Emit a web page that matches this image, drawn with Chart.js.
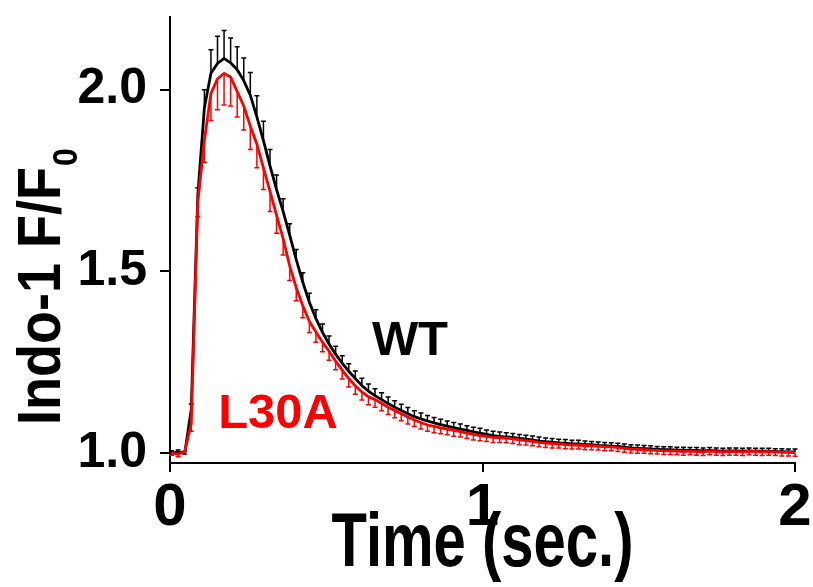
<!DOCTYPE html>
<html>
<head>
<meta charset="utf-8">
<script src="https://cdn.jsdelivr.net/npm/chart.js@4.4.1/dist/chart.umd.min.js"></script>
<style>
  html, body { margin: 0; padding: 0; background: #fff; }
  #wrap { width: 813px; height: 587px; position: relative; }
</style>
</head>
<body>
<div id="wrap"><canvas id="chart-indo"></canvas></div>
<script>
// time (sec.)
const times = [
  0.005, 0.026, 0.047, 0.068, 0.089, 0.110, 0.131, 0.152, 0.173, 0.194,
  0.215, 0.236, 0.257, 0.278, 0.299, 0.320, 0.341, 0.362, 0.383, 0.404,
  0.425, 0.446, 0.467, 0.488, 0.509, 0.530, 0.551, 0.572, 0.593, 0.614,
  0.635, 0.656, 0.677, 0.698, 0.719, 0.740, 0.761, 0.782, 0.803, 0.824,
  0.845, 0.866, 0.887, 0.908, 0.929, 0.950, 0.971, 0.992, 1.013, 1.034,
  1.055, 1.076, 1.097, 1.118, 1.139, 1.160, 1.181, 1.202, 1.223, 1.244,
  1.265, 1.286, 1.307, 1.328, 1.349, 1.370, 1.391, 1.412, 1.433, 1.454,
  1.475, 1.496, 1.517, 1.538, 1.559, 1.580, 1.601, 1.622, 1.643, 1.664,
  1.685, 1.706, 1.727, 1.748, 1.769, 1.790, 1.811, 1.832, 1.853, 1.874,
  1.895, 1.916, 1.937, 1.958, 1.979, 2.000
];

// WT mean F/F0 and SEM (upper bars)
const wtMean = [
  1.000, 1.003, 0.999, 1.120, 1.710, 1.950, 2.045, 2.072, 2.086, 2.074,
  2.055, 2.025, 1.985, 1.925, 1.860, 1.790, 1.725, 1.665, 1.600, 1.532,
  1.470, 1.415, 1.370, 1.332, 1.300, 1.272, 1.247, 1.225, 1.205, 1.186,
  1.170, 1.158, 1.147, 1.136, 1.126, 1.117, 1.108, 1.100, 1.094, 1.088,
  1.083, 1.078, 1.074, 1.070, 1.066, 1.062, 1.058, 1.055, 1.051, 1.048,
  1.046, 1.044, 1.043, 1.040, 1.038, 1.036, 1.033, 1.031, 1.030, 1.028,
  1.027, 1.025, 1.025, 1.023, 1.023, 1.021, 1.020, 1.019, 1.018, 1.016,
  1.014, 1.013, 1.012, 1.011, 1.010, 1.009, 1.009, 1.008, 1.008, 1.007,
  1.007, 1.006, 1.007, 1.006, 1.005, 1.006, 1.006, 1.005, 1.006, 1.005,
  1.005, 1.005, 1.004, 1.004, 1.003, 1.003
];
const wtSem = [
  0.006, 0.005, 0.006, 0.015, 0.020, 0.050, 0.065, 0.075, 0.077, 0.068,
  0.063, 0.062, 0.062, 0.058, 0.053, 0.045, 0.040, 0.035, 0.031, 0.028,
  0.026, 0.025, 0.024, 0.023, 0.022, 0.022, 0.021, 0.021, 0.021, 0.020,
  0.020, 0.019, 0.019, 0.018, 0.018, 0.017, 0.017, 0.016, 0.016, 0.015,
  0.015, 0.015, 0.014, 0.014, 0.014, 0.013, 0.013, 0.013, 0.012, 0.012,
  0.012, 0.012, 0.011, 0.011, 0.011, 0.011, 0.011, 0.010, 0.010, 0.010,
  0.010, 0.010, 0.010, 0.010, 0.009, 0.009, 0.009, 0.009, 0.009, 0.009,
  0.009, 0.009, 0.009, 0.009, 0.008, 0.008, 0.008, 0.008, 0.008, 0.008,
  0.008, 0.008, 0.008, 0.008, 0.008, 0.008, 0.008, 0.008, 0.008, 0.008,
  0.008, 0.008, 0.008, 0.008, 0.008, 0.008
];

// L30A mean F/F0 and SEM (lower bars)
const l30aMean = [
  1.000, 0.997, 1.003, 1.080, 1.690, 1.860, 1.990, 2.030, 2.045, 2.035,
  1.995, 1.955, 1.900, 1.850, 1.785, 1.720, 1.655, 1.590, 1.515, 1.455,
  1.405, 1.362, 1.333, 1.305, 1.280, 1.253, 1.228, 1.205, 1.185, 1.168,
  1.155, 1.147, 1.137, 1.126, 1.117, 1.108, 1.099, 1.091, 1.084, 1.077,
  1.073, 1.069, 1.066, 1.062, 1.059, 1.055, 1.051, 1.048, 1.046, 1.043,
  1.042, 1.041, 1.039, 1.036, 1.034, 1.032, 1.029, 1.027, 1.026, 1.025,
  1.023, 1.022, 1.022, 1.020, 1.020, 1.019, 1.017, 1.017, 1.015, 1.013,
  1.011, 1.010, 1.009, 1.008, 1.007, 1.006, 1.006, 1.005, 1.004, 1.005,
  1.004, 1.003, 1.005, 1.004, 1.003, 1.004, 1.004, 1.003, 1.005, 1.004,
  1.003, 1.004, 1.003, 1.002, 1.002, 1.001
];
const l30aSem = [
  0.006, 0.007, 0.006, 0.020, 0.040, 0.060, 0.075, 0.085, 0.087, 0.080,
  0.070, 0.066, 0.065, 0.065, 0.060, 0.055, 0.050, 0.045, 0.040, 0.036,
  0.033, 0.030, 0.028, 0.026, 0.025, 0.024, 0.024, 0.023, 0.023, 0.022,
  0.022, 0.021, 0.021, 0.020, 0.020, 0.019, 0.019, 0.018, 0.018, 0.017,
  0.017, 0.016, 0.016, 0.016, 0.015, 0.015, 0.015, 0.014, 0.014, 0.014,
  0.013, 0.013, 0.013, 0.013, 0.012, 0.012, 0.012, 0.012, 0.012, 0.011,
  0.011, 0.011, 0.011, 0.011, 0.011, 0.011, 0.011, 0.011, 0.011, 0.011,
  0.011, 0.011, 0.010, 0.010, 0.010, 0.010, 0.010, 0.010, 0.010, 0.010,
  0.010, 0.010, 0.010, 0.010, 0.010, 0.010, 0.010, 0.010, 0.010, 0.010,
  0.010, 0.010, 0.010, 0.010, 0.010, 0.010
];

const xTicks = [0, 1, 2];
const yTicks = [1.0, 1.5, 2.0];

const FONT = "'Liberation Sans', Arial, sans-serif";

function toPoints(ys) {
  return times.map((t, i) => ({ x: t, y: ys[i] }));
}

// error bars: WT upward, L30A downward
const errorBars = {
  id: 'errorBars',
  beforeDatasetsDraw(chart) {
    const { ctx, scales: { x, y } } = chart;
    chart.data.datasets.forEach((ds) => {
      const dir = ds.errDir;
      ctx.save();
      ctx.strokeStyle = ds.borderColor;
      ctx.lineWidth = 1.5;
      ds.err.forEach((e, i) => {
        const px = x.getPixelForValue(times[i]);
        const p0 = y.getPixelForValue(ds.data[i].y);
        const p1 = y.getPixelForValue(ds.data[i].y + dir * e);
        ctx.beginPath();
        ctx.moveTo(px, p0);
        ctx.lineTo(px, p1);
        ctx.moveTo(px - 2.5, p1);
        ctx.lineTo(px + 2.5, p1);
        ctx.stroke();
      });
      ctx.restore();
    });
  }
};

// titles and curve labels
const annotations = {
  id: 'annotations',
  afterDraw(chart) {
    const { ctx, scales: { x, y } } = chart;
    ctx.save();
    ctx.fillStyle = '#000';

    // x title, drawn a bit taller like the original
    ctx.save();
    ctx.translate((x.left + x.right) / 2, 566);
    ctx.scale(1, 1.3);
    ctx.font = 'bold 58px ' + FONT;
    ctx.textAlign = 'center';
    ctx.textBaseline = 'alphabetic';
    ctx.fillText('Time (sec.)', 0, 0);
    ctx.restore();

    // y title with subscript
    ctx.save();
    ctx.translate(60, 425);
    ctx.rotate(-Math.PI / 2);
    ctx.scale(1, 1.12);
    ctx.font = 'bold 54px ' + FONT;
    ctx.textAlign = 'left';
    ctx.textBaseline = 'alphabetic';
    ctx.fillText('Indo-1 F/F', 0, 0);
    const w = ctx.measureText('Indo-1 F/F').width;
    ctx.font = 'bold 32px ' + FONT;
    ctx.fillText('0', w + 1, 15);
    ctx.restore();

    // curve labels
    ctx.font = 'bold 49px ' + FONT;
    ctx.textAlign = 'left';
    ctx.textBaseline = 'alphabetic';
    ctx.fillStyle = '#000';
    ctx.fillText('WT', x.getPixelForValue(0.646), y.getPixelForValue(1.269));
    ctx.fillStyle = '#ff0000';
    ctx.fillText('L30A', x.getPixelForValue(0.154), y.getPixelForValue(1.069));
    ctx.restore();
  }
};

const ctx = document.getElementById('chart-indo');
const myChart = new Chart(ctx, {
  type: 'scatter',
  data: {
    datasets: [
      {
        label: 'WT',
        data: toPoints(wtMean),
        err: wtSem,
        errDir: 1,
        borderColor: '#000000',
        borderWidth: 2.8,
        showLine: true,
        pointRadius: 0,
        tension: 0,
        order: 1
      },
      {
        label: 'L30A',
        data: toPoints(l30aMean),
        err: l30aSem,
        errDir: -1,
        borderColor: '#ff0000',
        borderWidth: 2.8,
        showLine: true,
        pointRadius: 0,
        tension: 0,
        order: 0
      }
    ]
  },
  options: {
    responsive: true,
    maintainAspectRatio: false,
    animation: false,
    devicePixelRatio: 1,
    layout: { padding: { top: 17, right: 18, left: 0, bottom: 0 } },
    plugins: {
      legend: { display: false },
      tooltip: { enabled: false }
    },
    scales: {
      x: {
        type: 'linear',
        min: 0,
        max: 2,
        border: { display: true, color: '#000', width: 2 },
        grid: { drawOnChartArea: false, drawTicks: true, tickLength: 9, color: '#000', lineWidth: 2 },
        ticks: {
          color: '#000',
          font: { family: FONT, size: 60, weight: 'bold' },
          padding: 0,
          maxRotation: 0,
          callback: (v) => String(v)
        },
        afterBuildTicks: (s) => { s.ticks = xTicks.map((v) => ({ value: v })); },
        afterFit: (s) => { s.height = 124; s.paddingLeft = 0; s.paddingRight = 0; }
      },
      y: {
        type: 'linear',
        min: 0.9725,
        max: 2.2,
        border: { display: true, color: '#000', width: 2 },
        grid: { drawOnChartArea: false, drawTicks: true, tickLength: 10, color: '#000', lineWidth: 2 },
        ticks: {
          color: '#000',
          font: { family: FONT, size: 50, weight: 'bold' },
          padding: 13,
          callback: (v) => v.toFixed(1)
        },
        afterBuildTicks: (s) => { s.ticks = yTicks.map((v) => ({ value: v })); },
        afterFit: (s) => { s.width = 170; s.paddingTop = 0; s.paddingBottom = 0; }
      }
    }
  },
  plugins: [errorBars, annotations]
});
</script>
</body>
</html>
